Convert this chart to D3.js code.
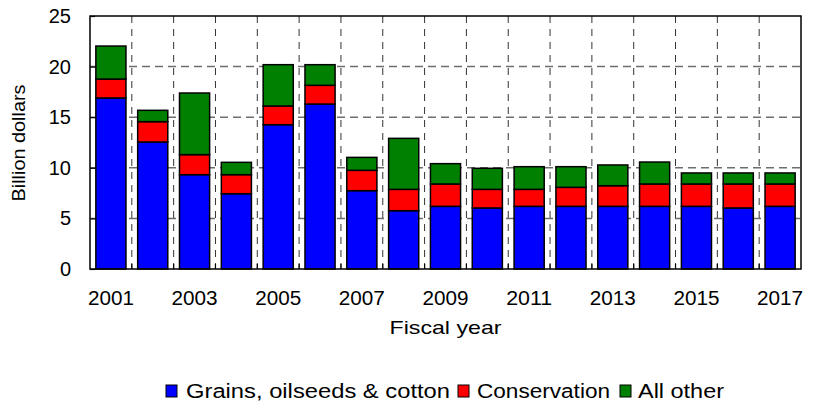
<!DOCTYPE html>
<html><head><meta charset="utf-8">
<script src="https://cdn.jsdelivr.net/npm/d3@7"></script>
<style>
html,body{margin:0;padding:0;background:#fff;}
text{font-family:Arial,"Liberation Sans",sans-serif;fill:#000;}
</style></head>
<body><svg id="chart" width="819" height="404"></svg>
<script>
const years = ["2001","2002","2003","2004","2005","2006","2007","2008","2009","2010","2011","2012","2013","2014","2015","2016","2017"];
const grains = [16.9,12.55,9.32,7.44,14.26,16.3,7.74,5.76,6.19,6.03,6.19,6.19,6.19,6.19,6.19,6.03,6.19];
const conservation = [1.87,2.01,1.98,1.88,1.85,1.85,2.01,2.11,2.21,1.84,1.68,1.88,2.04,2.21,2.21,2.37,2.21];
const allOther = [3.26,1.12,6.09,1.22,4.08,2.04,1.28,5.04,2.01,2.08,2.24,2.04,2.05,2.17,1.09,1.09,1.09];
const yTicks = [0,5,10,15,20,25];
const xTickLabels = ["2001","2003","2005","2007","2009","2011","2013","2015","2017"];
const seriesNames = ["Grains, oilseeds & cotton","Conservation","All other"];
const seriesColors = ["#0000FF","#FF0000","#008000"];

const svg = d3.select("#chart");
const L = 90, R = 801, T = 16, B = 269;

const x = d3.scaleBand().domain(years).range([L, R]).paddingInner(0.28).paddingOuter(0.14);
const y = d3.scaleLinear().domain([0, 25]).range([B, T]);
const step = x.step();

const table = years.map((yr, i) => ({year: yr, g: grains[i], c: conservation[i], o: allOther[i]}));
const stack = d3.stack().keys(["g","c","o"])(table);

// horizontal grid
svg.append("g").selectAll("line").data(yTicks.filter(d => d > 0 && d < 25)).join("line")
  .attr("x1", L).attr("x2", R).attr("y1", d => y(d)).attr("y2", d => y(d))
  .attr("stroke", "#6e6e6e").attr("stroke-width", 1.5).attr("stroke-dasharray", "8,5");
// vertical grid at band boundaries
const bounds = d3.range(1, years.length).map(i => L + i * step);
svg.append("g").selectAll("line").data(bounds).join("line")
  .attr("x1", d => d).attr("x2", d => d).attr("y1", T).attr("y2", B)
  .attr("stroke", "#333").attr("stroke-width", 1).attr("stroke-dasharray", "7,6");

// bars
svg.append("g").selectAll("g").data(stack).join("g")
  .attr("fill", (d, i) => seriesColors[i])
  .selectAll("rect").data(d => d).join("rect")
  .attr("x", d => x(d.data.year)).attr("width", x.bandwidth())
  .attr("y", d => y(d[1])).attr("height", d => y(d[0]) - y(d[1]))
  .attr("stroke", "#000").attr("stroke-width", 1.5);

// frame
svg.append("rect").attr("x", L).attr("y", T).attr("width", R - L).attr("height", B - T)
  .attr("fill", "none").attr("stroke", "#000").attr("stroke-width", 1.5);

// y axis
const yAxis = d3.axisLeft(y).tickValues(yTicks).tickSize(-5).tickPadding(19);
const gy = svg.append("g").attr("transform", `translate(${L},0)`).call(yAxis);
gy.select(".domain").remove();
gy.selectAll(".tick line").attr("stroke", "#000").attr("stroke-width", 1.2);
gy.selectAll(".tick text").attr("font-size", 20).attr("font-family", "Arial, 'Liberation Sans', sans-serif");

// x ticks at band boundaries (inward)
svg.append("g").selectAll("line").data(bounds).join("line")
  .attr("x1", d => d).attr("x2", d => d).attr("y1", B).attr("y2", B - 5)
  .attr("stroke", "#000").attr("stroke-width", 1.2);

// x labels
const xAxis = d3.axisBottom(x).tickValues(xTickLabels).tickSize(0).tickPadding(22);
const gx = svg.append("g").attr("transform", `translate(0,${B})`).call(xAxis);
gx.select(".domain").remove();
gx.selectAll(".tick text").attr("font-size", 20).attr("font-family", "Arial, 'Liberation Sans', sans-serif")
  .attr("textLength", 46).attr("lengthAdjust", "spacingAndGlyphs");

// axis titles
svg.append("text").attr("x", (L + R) / 2).attr("y", 334).attr("text-anchor", "middle")
  .attr("font-size", 19).attr("textLength", 112).attr("lengthAdjust", "spacingAndGlyphs").text("Fiscal year");
svg.append("text").attr("transform", "translate(25,143) rotate(-90)").attr("text-anchor", "middle")
  .attr("font-size", 18).attr("textLength", 117).attr("lengthAdjust", "spacingAndGlyphs").text("Billion dollars");

// legend
const legendPos = [{sq: 166, tx: 186, w: 264}, {sq: 458, tx: 477, w: 133}, {sq: 620, tx: 638, w: 86}];
const lg = svg.append("g").selectAll("g").data(seriesNames).join("g");
lg.append("rect").attr("x", (d, i) => legendPos[i].sq).attr("y", 385).attr("width", 11).attr("height", 12)
  .attr("fill", (d, i) => seriesColors[i]).attr("stroke", "#000").attr("stroke-width", 1);
lg.append("text").attr("x", (d, i) => legendPos[i].tx).attr("y", 398).attr("font-size", 20)
  .attr("textLength", (d, i) => legendPos[i].w).attr("lengthAdjust", "spacingAndGlyphs").text(d => d);
</script></body></html>
